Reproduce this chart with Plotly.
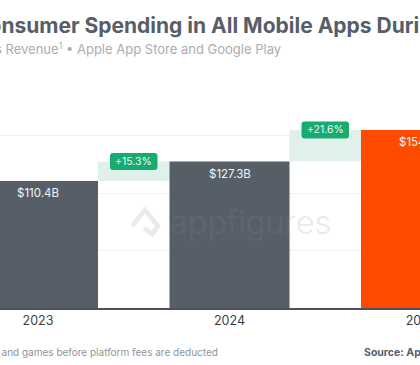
import plotly.graph_objects as go

years = ["2023", "2024", "2025"]
revenue = [110.4, 127.3, 154.8]
revenue_labels = ["$110.4B", "$127.3B", "$154.8B"]
growth_labels = ["+15.3%", "+21.6%"]
grid_values = [50, 100, 150]

INK = "#565e68"
FONT = "Inter"
PX_PER_YEAR = 191.5
FIG_W = 640
XMIN = -38 / PX_PER_YEAR
XMAX = XMIN + FIG_W / PX_PER_YEAR
BASE_Y = 308
PX_PER_B = 1.15
H = 365
YMAX = BASE_Y / PX_PER_B

x_pos = list(range(len(years)))
mid = [i + 0.5 for i in x_pos[:-1]]

fig = go.Figure()
fig.add_bar(x=mid, y=[revenue[i + 1] - revenue[i] for i in range(2)], base=revenue[:2],
            width=72 / PX_PER_YEAR, marker=dict(color="#dff1ea", line_width=0), hoverinfo="skip")
fig.add_bar(x=x_pos, y=revenue, width=120 / PX_PER_YEAR,
            marker=dict(color=[INK, INK, "#ff4b00"], line_width=0), hoverinfo="skip")
fig.add_bar(x=mid, y=[14.8, 14.8], base=[revenue[i + 1] - 7.4 for i in range(2)],
            width=47.5 / PX_PER_YEAR, marker=dict(color="#17ab72", line_width=0, cornerradius=3),
            hoverinfo="skip")

for i, label in enumerate(revenue_labels):
    fig.add_annotation(x=i, y=revenue[i], yshift=-12, text=label, showarrow=False, yanchor="middle",
                       font=dict(family=FONT, size=11.5, color="#f4f5f6"))
for i, label in enumerate(growth_labels):
    fig.add_annotation(x=mid[i], y=revenue[i + 1], text=label, showarrow=False, yanchor="middle",
                       font=dict(family=FONT, size=10.5, color="#eef9f4"))

fig.update_layout(
    width=FIG_W, height=H, margin=dict(l=0, r=0, t=0, b=H - BASE_Y), barmode="overlay", showlegend=False,
    plot_bgcolor="white", paper_bgcolor="white", font=dict(family=FONT),
    xaxis=dict(range=[XMIN, XMAX], tickmode="array", tickvals=x_pos, ticktext=years, showgrid=False,
               zeroline=False, showline=True, linecolor="#4b525b", linewidth=1.5, ticks="",
               tickfont=dict(family=FONT, size=12.5, color="#3a3f46")),
    yaxis=dict(range=[0, YMAX], tickmode="array", tickvals=grid_values, showticklabels=False,
               gridcolor="#eef0f1", gridwidth=1, zeroline=False),
)

def note(x, y, text, size, color, weight="normal", anchor="left", opacity=1):
    fig.add_annotation(xref="paper", yref="paper", x=x / FIG_W, y=1 - y / BASE_Y, text=text, showarrow=False,
                       xanchor=anchor, yanchor="middle", opacity=opacity,
                       font=dict(family=FONT, size=size, color=color, weight=weight))

note(-29, 26, "Consumer Spending in All Mobile Apps During 2025", 21, INK, weight=700)
note(-36, 48, "Gross Revenue<sup>1</sup> • Apple App Store and Google Play", 13, "#a9adb2")
note(-150, 352, "1. Gross revenue includes apps and games before platform fees are deducted", 10, "#8f949a")
note(362, 352, "Source: Appfigures", 10.5, INK, weight=700)
note(168, 222, "appfigures", 32.5, "#8a8f96", weight=300, opacity=0.18)

fig.add_shape(type="path", xref="paper", yref="paper", opacity=0.18, line=dict(color="#8a8f96", width=4.5),
              path="M {} {} L {} {} L {} {} L {} {} L {} {}".format(
                  132 / FIG_W, 1 - 226 / BASE_Y, 145 / FIG_W, 1 - 210 / BASE_Y, 158 / FIG_W, 1 - 226 / BASE_Y,
                  152 / FIG_W, 1 - 234 / BASE_Y, 144 / FIG_W, 1 - 228 / BASE_Y))

fig.write_html("out.html", config=dict(displayModeBar=False),
               post_script="document.documentElement.style.overflow='hidden';document.body.style.overflow='hidden';document.body.style.margin='0';")
